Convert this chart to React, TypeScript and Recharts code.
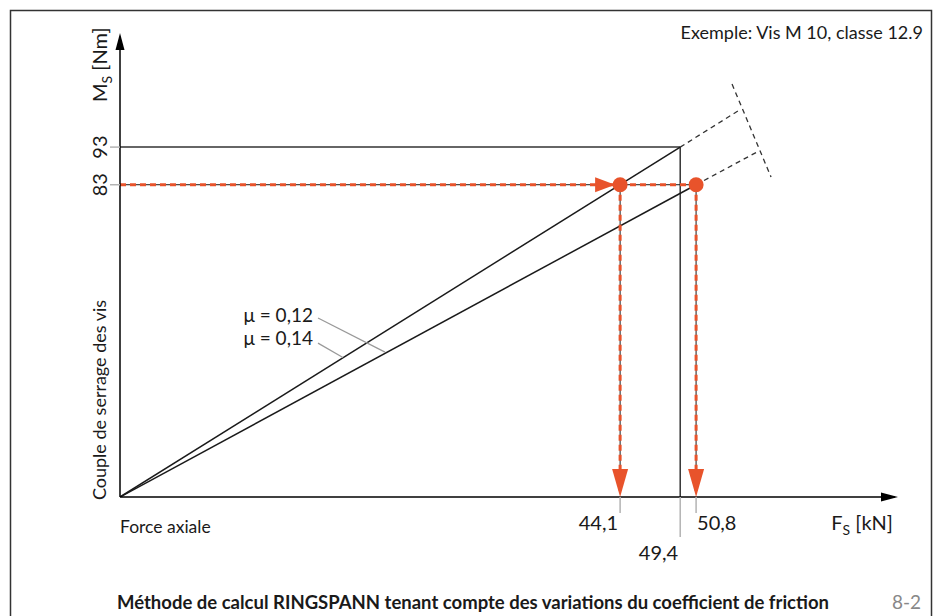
import React from 'react';
import {
  ComposedChart,
  Line,
  ReferenceDot,
  ReferenceLine,
  XAxis,
  YAxis,
} from 'recharts';

// values (F in kN, M in Nm)
const forceTicks = [44.1, 49.4, 50.8];
const torqueTicks = [83, 93];
const forceMax = 68.34;
const torqueMax = 122;

const muLow = [{ x: 0, y: 0 }, { x: 50.8, y: 83 }]; // μ = 0,12
const muLowExt = [{ x: 50.8, y: 83 }, { x: 56.3, y: 91.9 }];
const muHigh = [{ x: 0, y: 0 }, { x: 49.4, y: 93 }]; // μ = 0,14
const muHighExt = [{ x: 49.4, y: 93 }, { x: 54.7, y: 103 }];
const limitLine = [{ x: 53.97, y: 109.75 }, { x: 57.41, y: 85.04 }];
const readForces = [44.1, 50.8];
const targetTorque = 83;
const leaders = [
  { label: 'μ = 0,12', from: { x: 17.46, y: 47.6 }, to: { x: 23.37, y: 38.5 } },
  { label: 'μ = 0,14', from: { x: 17.46, y: 40.9 }, to: { x: 19.66, y: 37.1 } },
];

const ORANGE = '#E8532B';
const INK = '#1a1a1a';
const GREY = '#b3b3b3';
const FONT = "Lato, 'Open Sans', sans-serif";

const XTick = (props: any) => {
  const { x, y, payload } = props;
  const v = payload.value as number;
  const long = v === 49.4;
  const label = String(v).replace('.', ',');
  return (
    <g>
      <line x1={x} y1={y} x2={x} y2={y + (long ? 40 : 16)} stroke={GREY} strokeWidth={1.5} />
      <text
        x={v === 50.8 ? x + 1 : x - 2}
        y={long ? y + 63 : y + 33}
        textAnchor={v === 50.8 ? 'start' : 'end'}
        fontSize={20}
        fontFamily={FONT}
        fill={INK}
      >
        {label}
      </text>
    </g>
  );
};

const YTick = (props: any) => {
  const { x, y, payload } = props;
  return (
    <g>
      <line x1={x - 10} y1={y} x2={x} y2={y} stroke={GREY} strokeWidth={1.5} />
      <text
        x={x - 13}
        y={y}
        textAnchor="middle"
        fontSize={20}
        fontFamily={FONT}
        fill={INK}
        transform={`rotate(-90, ${x - 13}, ${y})`}
      >
        {payload.value}
      </text>
    </g>
  );
};

const arrowRight = (p: any) => (
  <path d={`M${p.cx - 5},${p.cy} L${p.cx - 25},${p.cy - 7.5} L${p.cx - 25},${p.cy + 7.5} Z`} fill={ORANGE} />
);
const arrowDown = (p: any) => (
  <path d={`M${p.cx},${p.cy} L${p.cx - 8},${p.cy - 28} L${p.cx + 8},${p.cy - 28} Z`} fill={ORANGE} />
);
const axisArrowUp = (p: any) => (
  <path d={`M${p.cx},${p.cy - 5} L${p.cx - 4.5},${p.cy + 12} L${p.cx + 4.5},${p.cy + 12} Z`} fill="#000" />
);
const axisArrowRight = (p: any) => (
  <path d={`M${p.cx + 3},${p.cy} L${p.cx - 14},${p.cy - 4.5} L${p.cx - 14},${p.cy + 4.5} Z`} fill="#000" />
);

export default function App() {
  return (
    <div style={{ position: 'fixed', left: 0, top: 0, width: 940, height: 616, background: '#fff' }}>
      <ComposedChart
        width={940}
        height={616}
        margin={{ top: 38, right: 45, bottom: 89, left: 60 }}
      >
        <XAxis
          type="number"
          dataKey="x"
          domain={[0, forceMax]}
          ticks={forceTicks}
          tick={<XTick />}
          tickLine={false}
          tickSize={0}
          tickMargin={0}
          height={30}
          interval={0}
          axisLine={{ stroke: '#000', strokeWidth: 1.5 }}
          allowDataOverflow
        />
        <YAxis
          type="number"
          dataKey="y"
          domain={[0, torqueMax]}
          ticks={torqueTicks}
          tick={<YTick />}
          tickLine={false}
          tickSize={0}
          tickMargin={0}
          width={60}
          interval={0}
          axisLine={{ stroke: '#000', strokeWidth: 1.5 }}
          allowDataOverflow
        />

        {/* reading rectangle for 93 Nm */}
        <ReferenceLine segment={[{ x: 0, y: 93 }, { x: 49.4, y: 93 }]} stroke="#333" strokeWidth={1.5} />
        <ReferenceLine segment={[{ x: 49.4, y: 93 }, { x: 49.4, y: 0 }]} stroke="#333" strokeWidth={1.5} />

        {/* characteristic lines */}
        <Line data={muLow} dataKey="y" stroke={INK} strokeWidth={1.5} dot={false} isAnimationActive={false} />
        <Line data={muHigh} dataKey="y" stroke={INK} strokeWidth={1.5} dot={false} isAnimationActive={false} />
        <Line data={muLowExt} dataKey="y" stroke="#333" strokeWidth={1.3} strokeDasharray="5 4" dot={false} isAnimationActive={false} />
        <Line data={muHighExt} dataKey="y" stroke="#333" strokeWidth={1.3} strokeDasharray="5 4" dot={false} isAnimationActive={false} />
        <Line data={limitLine} dataKey="y" stroke="#333" strokeWidth={1.3} strokeDasharray="5 4" dot={false} isAnimationActive={false} />

        {leaders.map((l) => (
          <ReferenceLine key={l.label} segment={[l.from, l.to]} stroke="#999" strokeWidth={1.2} />
        ))}

        {/* 83 Nm reading */}
        <ReferenceLine segment={[{ x: 0, y: targetTorque }, { x: 50.8, y: targetTorque }]} stroke={INK} strokeWidth={1} />
        <ReferenceLine segment={[{ x: 0, y: targetTorque }, { x: 50.8, y: targetTorque }]} stroke={ORANGE} strokeWidth={3} strokeDasharray="6 4" />
        {readForces.map((f) => (
          <ReferenceLine key={`v${f}`} segment={[{ x: f, y: targetTorque }, { x: f, y: 1 }]} stroke={INK} strokeWidth={1} />
        ))}
        {readForces.map((f) => (
          <ReferenceLine key={`o${f}`} segment={[{ x: f, y: targetTorque }, { x: f, y: 1 }]} stroke={ORANGE} strokeWidth={3} strokeDasharray="6 4" />
        ))}
        <ReferenceDot x={44.1} y={targetTorque} r={0} shape={arrowRight} ifOverflow="visible" />
        {readForces.map((f) => (
          <ReferenceDot key={`a${f}`} x={f} y={0} r={0} shape={arrowDown} ifOverflow="visible" />
        ))}
        {readForces.map((f) => (
          <ReferenceDot key={`d${f}`} x={f} y={targetTorque} r={7.5} fill={ORANGE} stroke="none" ifOverflow="visible" />
        ))}

        <ReferenceDot x={0} y={torqueMax} r={0} shape={axisArrowUp} ifOverflow="visible" />
        <ReferenceDot x={forceMax} y={0} r={0} shape={axisArrowRight} ifOverflow="visible" />
      </ComposedChart>

      <svg
        width={940}
        height={616}
        style={{ position: 'absolute', left: 0, top: 0, pointerEvents: 'none' }}
        fontFamily={FONT}
        fill={INK}
      >
        <path d="M10.5,620 V10.5 H931.5 V620" fill="none" stroke="#333" strokeWidth={1.5} />
        <text x={923} y={39} fontSize={18} textAnchor="end">Exemple: Vis M 10, classe 12.9</text>
        <text x={107} y={102} fontSize={20} transform="rotate(-90, 107, 102)">
          M<tspan fontSize={14} dy={5}>S</tspan>
          <tspan dy={-5}> [Nm]</tspan>
        </text>
        <text x={106} y={400} fontSize={18} textAnchor="middle" transform="rotate(-90, 106, 400)">
          Couple de serrage des vis
        </text>
        <text x={120} y={533} fontSize={17.5}>Force axiale</text>
        <text x={893} y={530} fontSize={20} textAnchor="end">
          F<tspan fontSize={14} dy={5}>S</tspan>
          <tspan dy={-5}> [kN]</tspan>
        </text>
        {leaders.map((l, i) => (
          <text key={l.label} x={313} y={322 + i * 23} fontSize={19} textAnchor="end">
            {l.label}
          </text>
        ))}
        <text x={473} y={609} fontSize={18.5} fontWeight="bold" textAnchor="middle">
          Méthode de calcul RINGSPANN tenant compte des variations du coefficient de friction
        </text>
        <text x={921} y={609} fontSize={19} textAnchor="end" fill="#888">8-2</text>
      </svg>
    </div>
  );
}
